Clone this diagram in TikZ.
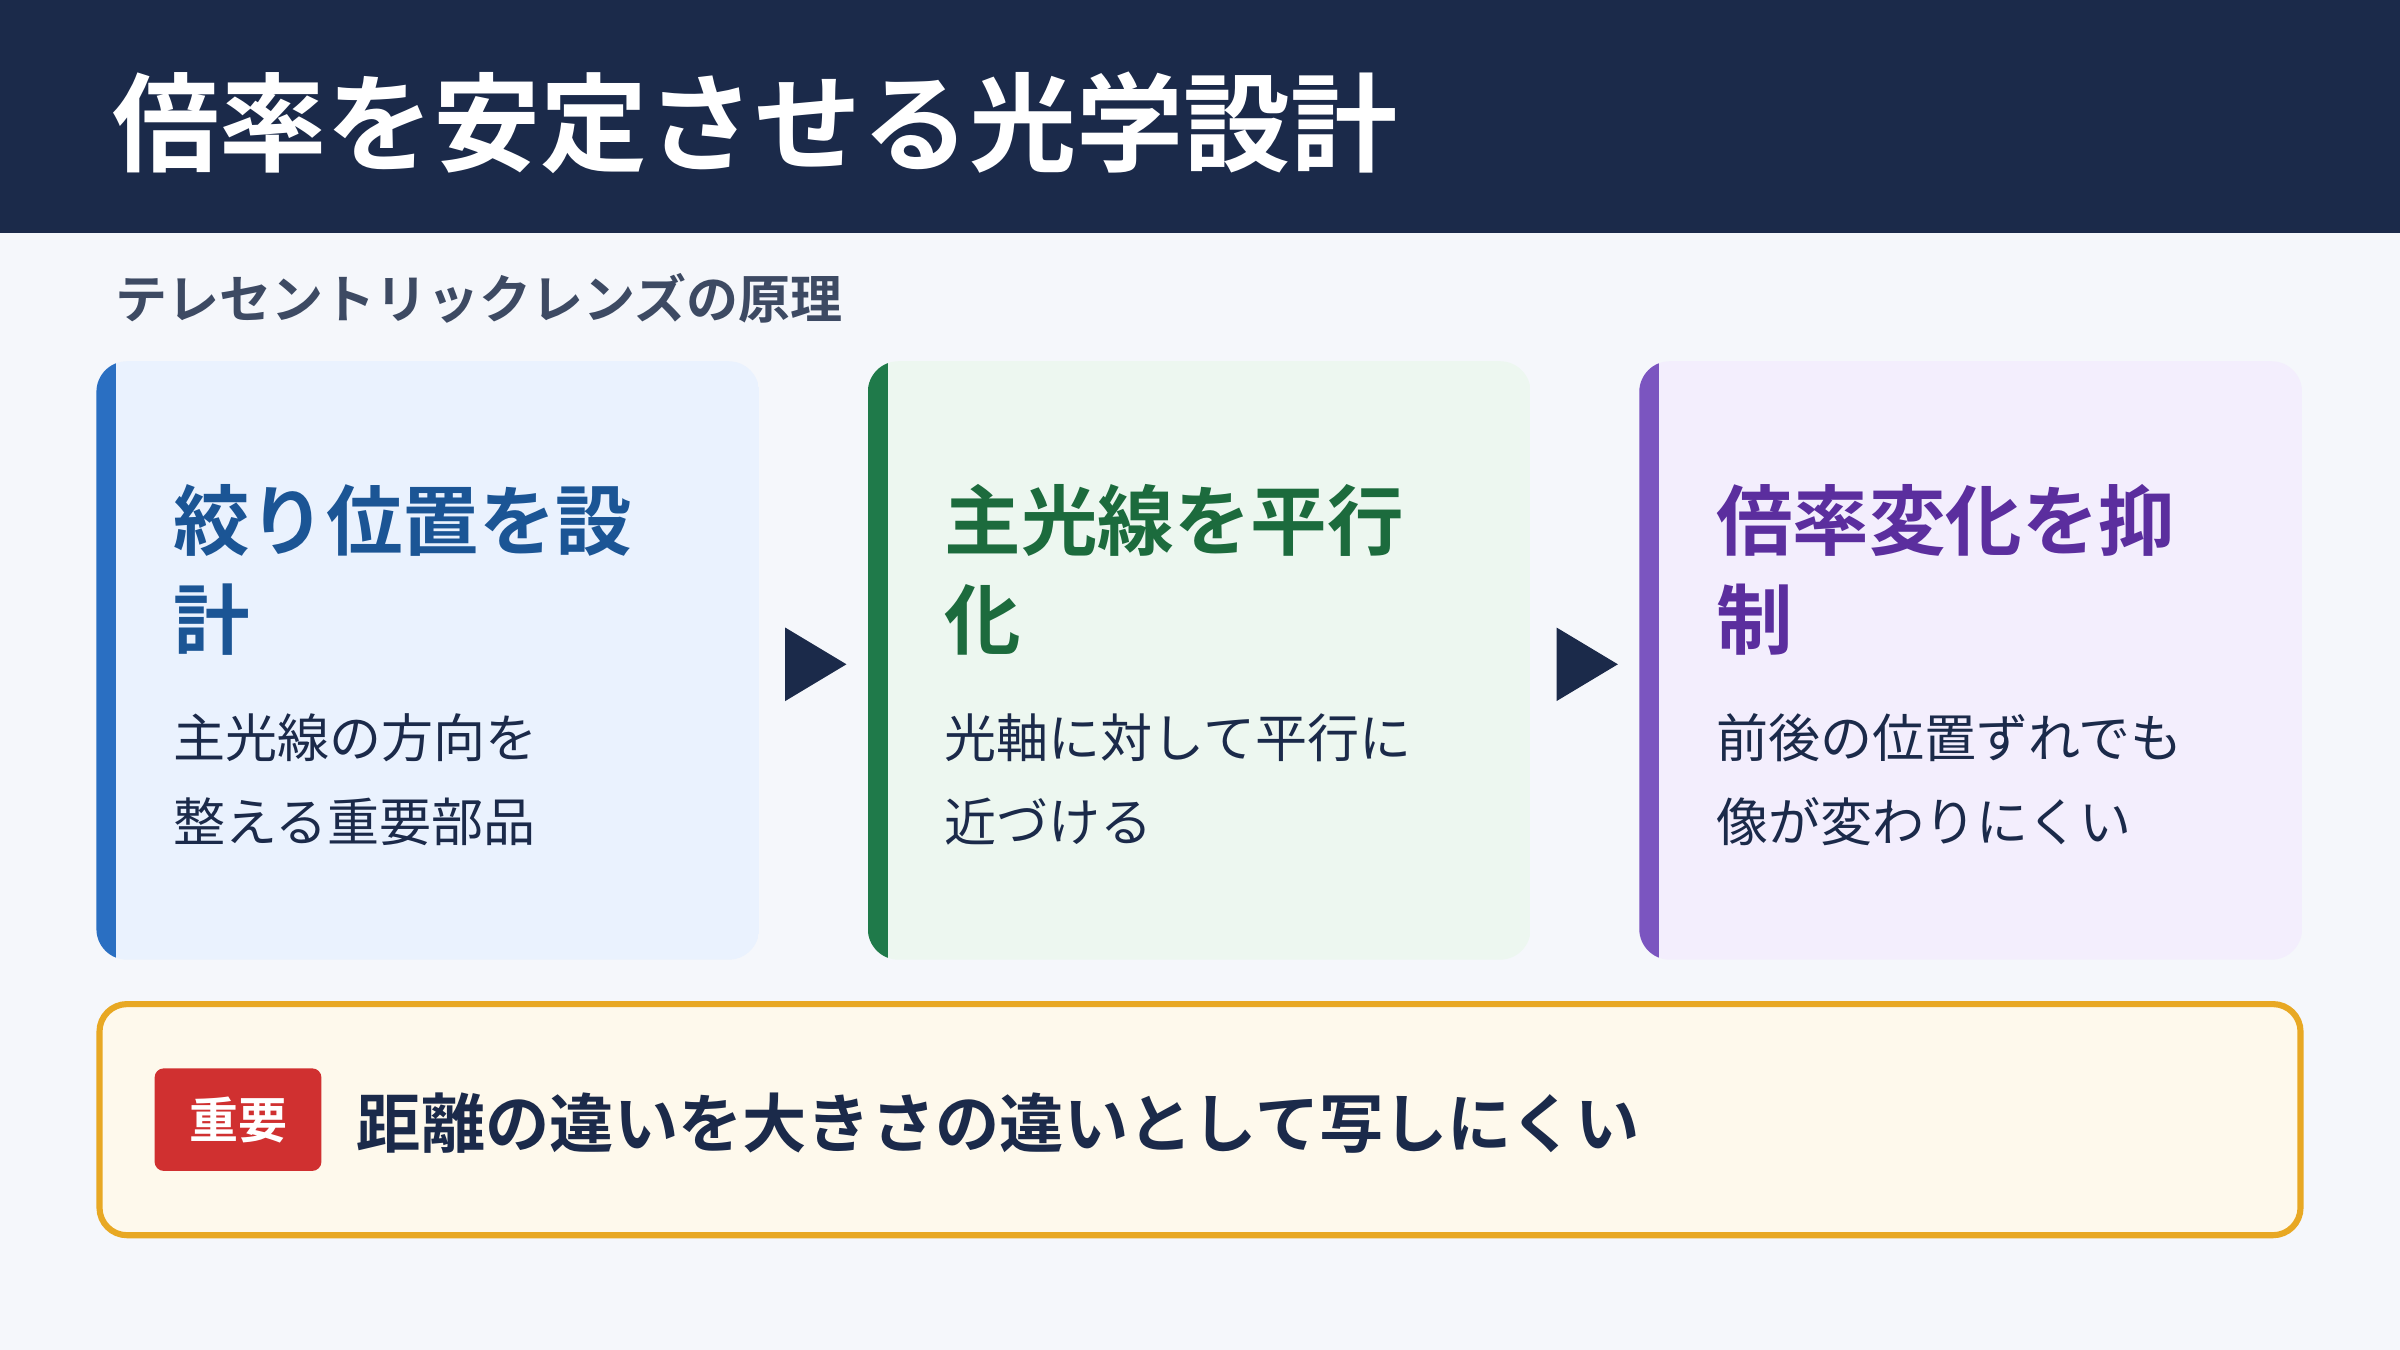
\documentclass[tikz,border=0pt]{standalone}
\usepackage{fontspec}
\newfontfamily\cjk{Noto Sans CJK JP}[BoldFont={Noto Sans CJK JP Bold}]
\definecolor{navy}{HTML}{1B2A4A}
\definecolor{bg}{HTML}{F5F7FB}
\definecolor{sub}{HTML}{3D4A63}
\definecolor{bA}{HTML}{2A6FC2}\definecolor{fA}{HTML}{EAF2FE}\definecolor{tA}{HTML}{1B5595}
\definecolor{bB}{HTML}{1F7A4A}\definecolor{fB}{HTML}{EDF7F0}\definecolor{tB}{HTML}{1C6B3D}
\definecolor{bC}{HTML}{7B55C0}\definecolor{fC}{HTML}{F3EEFD}\definecolor{tC}{HTML}{5B2E9E}
\definecolor{org}{HTML}{E8A823}\definecolor{ofill}{HTML}{FEF9EC}\definecolor{red}{HTML}{D03030}
\begin{document}
\begin{tikzpicture}[x=1pt,y=-1pt,
 ttl/.style={anchor=west,inner sep=0,font=\cjk\bfseries\fontsize{50}{60}\selectfont},
 body/.style={anchor=west,inner sep=0,text=navy,font=\cjk\fontsize{34}{40}\selectfont},
 arr/.style={fill=navy}]
\fill[bg] (0,0) rectangle (1568,882);
\useasboundingbox (0,0) rectangle (1568,882);
\fill[navy] (0,0) rectangle (1568,152);
\node[anchor=west,inner sep=0,text=white,font=\cjk\bfseries\fontsize{70}{80}\selectfont] (title) at (73,80) {倍率を安定させる光学設計};
\node[anchor=west,inner sep=0,text=sub,font=\cjk\bfseries\fontsize{34}{40}\selectfont] (subt) at (75,195) {テレセントリックレンズの原理};
\foreach \x/\b/\f in {63/bA/fA,567/bB/fB,1071/bC/fC}{
 \begin{scope}
 \clip[rounded corners=20] (\x,236) rectangle (\x+433,627);
 \fill[\f] (\x,236) rectangle (\x+433,627);
 \fill[\b] (\x,236) rectangle (\x+13,627);
 \end{scope}}
\node[ttl,text=tA] (a1) at (113,340) {絞り位置を設};
\node[ttl,text=tA] (a2) at (113,405) {計};
\node[body] (a3) at (113,482) {主光線の方向を};
\node[body] (a4) at (113,537) {整える重要部品};
\node[ttl,text=tB] (b1) at (617,340) {主光線を平行};
\node[ttl,text=tB] (b2) at (617,405) {化};
\node[body] (b3) at (617,482) {光軸に対して平行に};
\node[body] (b4) at (617,537) {近づける};
\node[ttl,text=tC] (c1) at (1121,340) {倍率変化を抑};
\node[ttl,text=tC] (c2) at (1121,405) {制};
\node[body] (c3) at (1121,482) {前後の位置ずれでも};
\node[body] (c4) at (1121,537) {像が変わりにくい};
\fill[arr] (513,410) -- (553,434) -- (513,458) -- cycle;
\fill[arr] (1017,410) -- (1057,434) -- (1017,458) -- cycle;
\draw[org,line width=4,fill=ofill,rounded corners=18] (65,656) rectangle (1503,807);
\node[fill=red,rounded corners=6,minimum width=109,minimum height=67,inner sep=0,text=white,font=\cjk\bfseries\fontsize{32}{36}\selectfont] (badge) at (155.5,731.5) {重要};
\node[anchor=west,inner sep=0,text=navy,font=\cjk\bfseries\fontsize{42}{48}\selectfont] (imp) at (233,734) {距離の違いを大きさの違いとして写しにくい};
\end{tikzpicture}
\end{document}
